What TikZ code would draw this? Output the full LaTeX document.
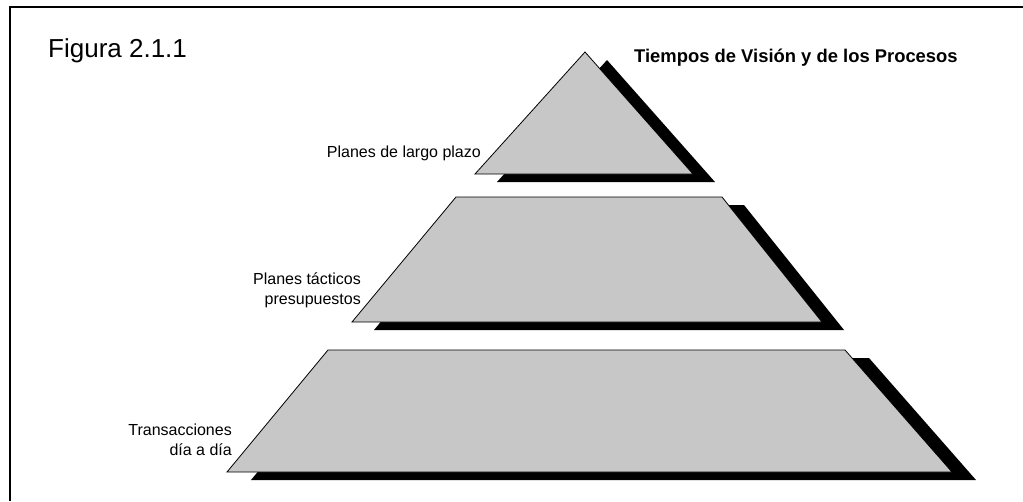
\documentclass[tikz,border=0pt]{standalone}
\usepackage{fontspec}
\setmainfont{Liberation Sans}
\begin{document}
\begin{tikzpicture}[x=1pt,y=-1pt,
  face/.style={fill=black!22, draw=black, line width=0.8pt, line join=miter},
  shade/.style={fill=black},
  lbl/.style={font=\fontsize{16}{20}\selectfont, inner sep=0pt, anchor=base east},
  frame/.style={line width=1.6pt}]
\useasboundingbox (0,0) rectangle (1023,501);
% frame
\draw[frame] (10,501) -- (10,7) -- (1023,7);
% titles
\node[font=\fontsize{26}{30}\selectfont, inner sep=0pt, anchor=base west] (fig) at (48,57) {Figura 2.1.1};
\node[font=\bfseries\fontsize{18.4}{22}\selectfont, inner sep=0pt, anchor=base west] (title) at (634,62) {Tiempos de Visión y de los Procesos};
% top triangle
\fill[shade] (607,60) -- (715,182) -- (497,182) -- cycle;
\draw[face] (585,52) -- (693,174) -- (475,174) -- cycle;
% middle trapezoid
\fill[shade] (478,205) -- (744,205) -- (844,330) -- (374,330) -- cycle;
\draw[face] (456,197) -- (722,197) -- (822,322) -- (352,322) -- cycle;
% bottom trapezoid
\fill[shade] (352,358) -- (869,358) -- (976,480) -- (251,480) -- cycle;
\draw[face] (328,350) -- (845,350) -- (952,472) -- (227,472) -- cycle;
% labels
\node[lbl] (l1) at (481,157) {Planes de largo plazo};
\node[lbl] (l2a) at (361,284) {Planes tácticos};
\node[lbl] (l2b) at (361,304) {presupuestos};
\node[lbl] (l3a) at (232,435) {Transacciones};
\node[lbl] (l3b) at (232,455) {día a día};
\end{tikzpicture}
\end{document}
